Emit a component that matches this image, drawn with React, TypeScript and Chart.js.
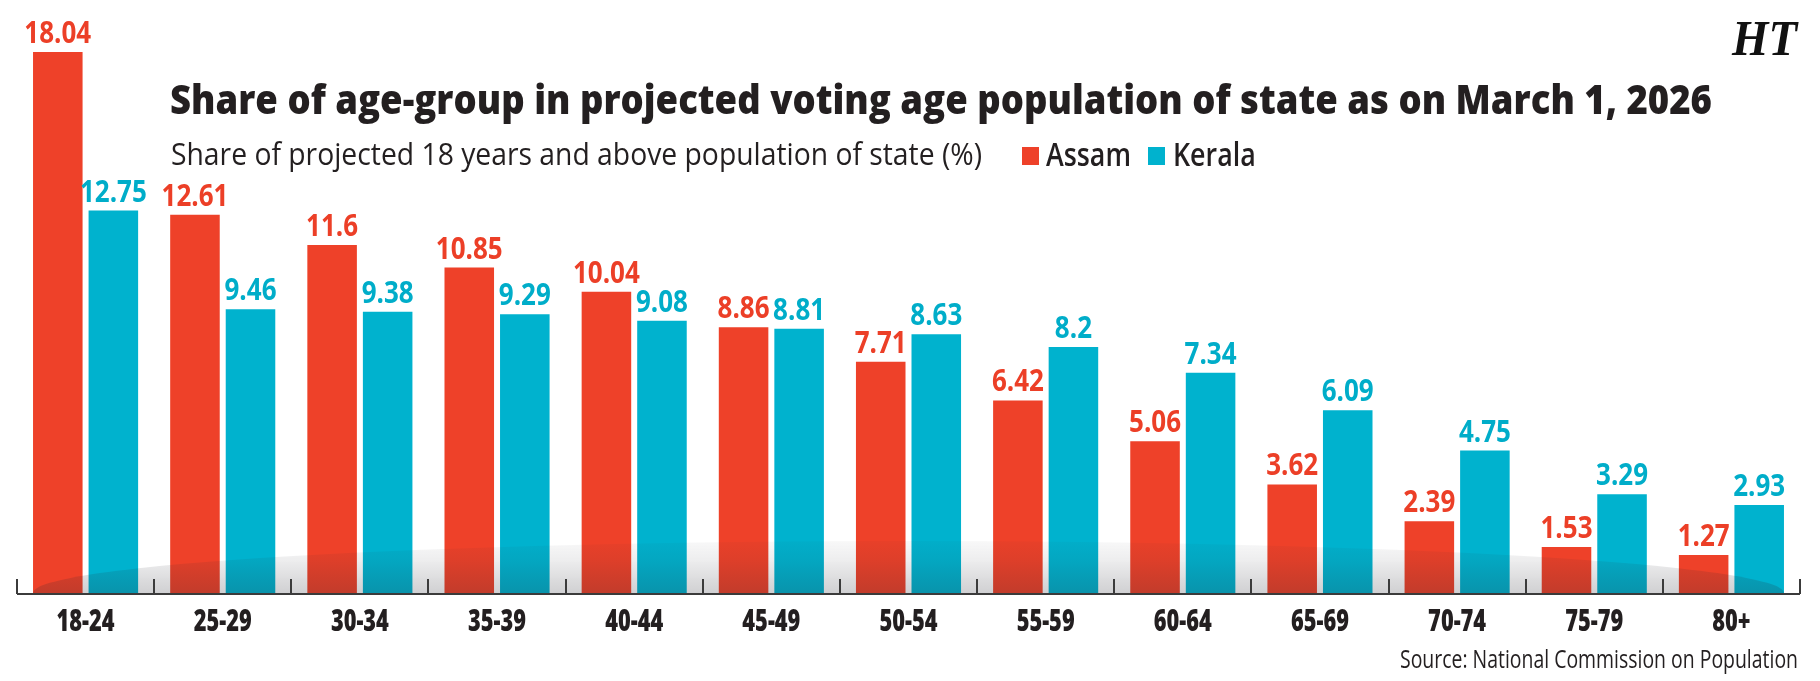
import React, { useEffect, useRef } from "react";
import { Chart, registerables } from "chart.js";

Chart.register(...registerables);

// Age groups and each state's share (%) of its projected 18+ population
const categories = ["18-24", "25-29", "30-34", "35-39", "40-44", "45-49", "50-54", "55-59", "60-64", "65-69", "70-74", "75-79", "80+"];
const assamShare = [18.04, 12.61, 11.6, 10.85, 10.04, 8.86, 7.71, 6.42, 5.06, 3.62, 2.39, 1.53, 1.27];
const keralaShare = [12.75, 9.46, 9.38, 9.29, 9.08, 8.81, 8.63, 8.2, 7.34, 6.09, 4.75, 3.29, 2.93];
const seriesNames = ["Assam", "Kerala"];

const TITLE = "Share of age-group in projected voting age population of state as on March 1, 2026";
const SUBTITLE = "Share of projected 18 years and above population of state (%)";
const SOURCE = "Source: National Commission on Population";

const RED = "#ee4129";
const TEAL = "#00b2ce";
const INK = "#231f20";
const SANS = "'Open Sans', 'Noto Sans', sans-serif";

// Draws text squeezed horizontally, either by a factor or to an exact width
function drawText(
  ctx: CanvasRenderingContext2D,
  text: string,
  x: number,
  y: number,
  font: string,
  color: string,
  align: "left" | "center" | "right",
  opts: { sx?: number; width?: number }
) {
  ctx.save();
  ctx.font = font;
  ctx.fillStyle = color;
  ctx.textAlign = "left";
  ctx.textBaseline = "alphabetic";
  const w = ctx.measureText(text).width;
  const sx = opts.width ? opts.width / w : opts.sx ?? 1;
  const dw = w * sx;
  const left = align === "center" ? x - dw / 2 : align === "right" ? x - dw : x;
  ctx.translate(left, y);
  ctx.scale(sx, 1);
  ctx.fillText(text, 0, 0);
  ctx.restore();
}

function squeezeFor(ctx: CanvasRenderingContext2D, font: string, sample: string, width: number) {
  ctx.save();
  ctx.font = font;
  const w = ctx.measureText(sample).width;
  ctx.restore();
  return width / w;
}

// Soft floor shadow under the bars
const floorShadow = {
  id: "floorShadow",
  afterDatasetsDraw(chart: any) {
    const { ctx, chartArea } = chart;
    const first = chart.getDatasetMeta(0).data[0];
    const last = chart.getDatasetMeta(1).data[categories.length - 1];
    if (!first || !last) return;
    const l = first.x - first.width / 2;
    const r = last.x + last.width / 2;
    const cx = (l + r) / 2;
    const rx = (r - l) / 2;
    const ry = 52;
    const base = chartArea.bottom;
    ctx.save();
    ctx.beginPath();
    ctx.rect(chartArea.left, base - ry - 2, chartArea.right - chartArea.left, ry + 2);
    ctx.clip();
    const g = ctx.createLinearGradient(0, base - ry, 0, base);
    g.addColorStop(0, "rgba(40,40,50,0.03)");
    g.addColorStop(0.35, "rgba(40,40,50,0.08)");
    g.addColorStop(1, "rgba(40,40,50,0.22)");
    ctx.fillStyle = g;
    ctx.beginPath();
    ctx.ellipse(cx, base, rx, ry, 0, Math.PI, 2 * Math.PI);
    ctx.closePath();
    ctx.fill();
    ctx.restore();
  },
};

// Axis line, boundary ticks, category labels, value labels, titles and legend
const decorations = {
  id: "decorations",
  afterDraw(chart: any) {
    const { ctx, chartArea } = chart;
    const xs = chart.scales.x;
    const base = chartArea.bottom;
    const step = xs.getPixelForValue(1) - xs.getPixelForValue(0);

    // axis and ticks
    ctx.save();
    ctx.strokeStyle = "#3b3b3b";
    ctx.lineWidth = 2;
    ctx.beginPath();
    ctx.moveTo(chartArea.left, base + 1);
    ctx.lineTo(chartArea.right, base + 1);
    for (let i = 0; i <= categories.length; i++) {
      const x = Math.round(xs.getPixelForValue(0) - step / 2 + i * step);
      ctx.moveTo(x, base + 1);
      ctx.lineTo(x, base - 14);
    }
    ctx.stroke();
    ctx.restore();

    // category labels
    const catFont = `800 30px ${SANS}`;
    const catSx = squeezeFor(ctx, catFont, "18-24", 58);
    categories.forEach((c, i) => {
      drawText(ctx, c, xs.getPixelForValue(i), base + 38, catFont, INK, "center", { sx: catSx });
    });

    // value labels
    const valFont = `700 30px ${SANS}`;
    const valSx = squeezeFor(ctx, valFont, "2.93", 52);
    [assamShare, keralaShare].forEach((vals, di) => {
      const meta = chart.getDatasetMeta(di);
      meta.data.forEach((bar: any, j: number) => {
        drawText(ctx, String(vals[j]), bar.x, bar.y - 9, valFont, di === 0 ? "#ec3f27" : "#00adc9", "center", { sx: valSx });
      });
    });

    // title and subtitle
    drawText(ctx, TITLE, 170, 114, `800 41px ${SANS}`, INK, "left", { width: 1542 });
    drawText(ctx, SUBTITLE, 171, 165, `400 31px ${SANS}`, INK, "left", { width: 811 });

    // legend
    const legFont = `600 32px ${SANS}`;
    const legSx = squeezeFor(ctx, legFont, "Assam", 85);
    ctx.fillStyle = RED;
    ctx.fillRect(1022, 147, 17, 18);
    drawText(ctx, seriesNames[0], 1046, 166, legFont, INK, "left", { sx: legSx });
    ctx.fillStyle = TEAL;
    ctx.fillRect(1148, 147, 17, 18);
    drawText(ctx, seriesNames[1], 1173, 166, legFont, INK, "left", { sx: legSx });

    // masthead mark
    drawText(ctx, "HT", 1732, 55, `italic 700 50px 'Liberation Serif', 'DejaVu Serif', serif`, "#111111", "left", { width: 65 });

    // source line
    drawText(ctx, SOURCE, 1798, 668, `400 25px ${SANS}`, INK, "right", { width: 398 });
  },
};

export default function App() {
  const ref = useRef<HTMLCanvasElement | null>(null);

  useEffect(() => {
    document.body.style.margin = "0";
    const canvas = ref.current;
    if (!canvas) return;
    const chart = new Chart(canvas, {
      type: "bar",
      data: {
        labels: categories,
        datasets: [
          {
            label: seriesNames[0],
            data: assamShare,
            backgroundColor: RED,
            borderWidth: 0,
            categoryPercentage: 0.81,
            barPercentage: 0.892,
          },
          {
            label: seriesNames[1],
            data: keralaShare,
            backgroundColor: TEAL,
            borderWidth: 0,
            categoryPercentage: 0.81,
            barPercentage: 0.892,
          },
        ],
      },
      options: {
        responsive: false,
        animation: false,
        devicePixelRatio: 1,
        layout: { padding: { left: 17, right: 20, top: 0, bottom: 88 } },
        plugins: {
          legend: { display: false },
          tooltip: { enabled: false },
          title: { display: false },
        },
        scales: {
          x: { display: false, offset: true },
          y: { display: false, min: 0, max: 19.77 },
        },
      },
      plugins: [floorShadow, decorations],
    });
    return () => chart.destroy();
  }, []);

  return (
    <div style={{ width: 1820, height: 681, background: "#ffffff" }}>
      <canvas ref={ref} width={1820} height={681} style={{ display: "block" }} />
    </div>
  );
}
